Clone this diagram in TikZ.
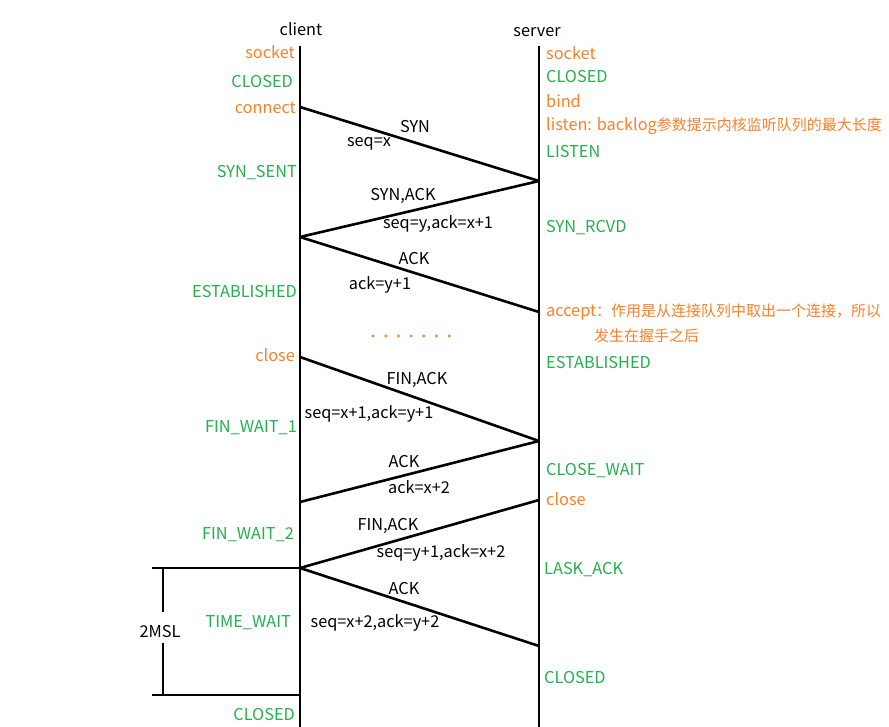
\documentclass[tikz,border=0pt]{standalone}
\usepackage{fontspec}
\setmainfont{Noto Sans CJK SC}
\newcommand{\cjksz}[1]{{\fontsize{15}{18}\selectfont #1}}
\definecolor{orng}{HTML}{FF7F27}
\definecolor{grn}{HTML}{22B14C}
\begin{document}
\begin{tikzpicture}[x=1pt,y=-1pt,
  every node/.style={font=\fontsize{16.3}{19}\selectfont,inner sep=0pt},
  life/.style={line width=2.6pt},
  msg/.style={line width=2.6pt},
  lstate/.style={text=grn,anchor=east},
  lcall/.style={text=orng,anchor=east},
  rstate/.style={text=grn,anchor=west},
  rcall/.style={text=orng,anchor=west},
  lbl/.style={text=black}]
\useasboundingbox (0,0) rectangle (889,727);
% lifelines
\node[lbl] (client) at (301,29) {client};
\node[lbl] (server) at (537,32) {server};
\coordinate (ctop) at (300,46);
\coordinate (cbot) at (300,727);
\coordinate (stop) at (539,46);
\coordinate (sbot) at (539,727);
\draw[life] (ctop) -- (cbot);
\draw[life] (stop) -- (sbot);
% client labels
\node[lcall]  (cl1) at (295,52) {socket};
\node[lstate] (cl2) at (293,82) {CLOSED};
\node[lcall]  (cl3) at (296,108) {connect};
\node[lstate] (cl4) at (297,173) {SYN\_SENT};
\node[lstate] (cl5) at (297,292) {ESTABLISHED};
\node[lcall]  (cl6) at (295,355) {close};
\node[lstate] (cl7) at (297,428) {FIN\_WAIT\_1};
\node[lstate] (cl8) at (294,535) {FIN\_WAIT\_2};
\node[lstate] (cl9) at (291,623) {TIME\_WAIT};
\node[lstate] (cl10) at (295,715) {CLOSED};
% server labels
\node[rcall]  (sl1) at (546,53) {socket};
\node[rstate] (sl2) at (546,77) {CLOSED};
\node[rcall]  (sl3) at (546,101) {bind};
\node[rcall]  (sl4) at (546,126) {listen: backlog\cjksz{参数提示内核监听队列的最大长度}};
\node[rstate] (sl5) at (546,152) {LISTEN};
\node[rstate] (sl6) at (546,228) {SYN\_RCVD};
\node[rcall]  (sl7) at (546,312) {accept\cjksz{：作用是从连接队列中取出一个连接，所以}};
\node[rcall]  (sl7b) at (594,336) {\cjksz{发生在握手之后}};
\node[rstate] (sl8) at (546,363) {ESTABLISHED};
\node[rstate] (sl9) at (546,471) {CLOSE\_WAIT};
\node[rcall]  (sl10) at (546,499) {close};
\node[rstate] (sl11) at (544,570) {LASK\_ACK};
\node[rstate] (sl12) at (544,678) {CLOSED};
% message end points
\coordinate (c1) at (300,107);
\coordinate (s1) at (539,181);
\coordinate (c2) at (300,237);
\coordinate (s2) at (539,312);
\coordinate (c3) at (300,357);
\coordinate (s3) at (539,441);
\coordinate (c4) at (300,502);
\coordinate (s4) at (539,500);
\coordinate (c5) at (300,568);
\coordinate (s5) at (539,646);
\draw[msg] (c1) -- (s1);
\draw[msg] (s1) -- (c2);
\draw[msg] (c2) -- (s2);
\draw[msg] (c3) -- (s3);
\draw[msg] (s3) -- (c4);
\draw[msg] (s4) -- (c5);
\draw[msg] (c5) -- (s5);
% message labels
\node[lbl] (m1a) at (415,127) {SYN};
\node[lbl] (m1b) at (369,144) {seq=x};
\node[lbl] (m2a) at (403,196) {SYN,ACK};
\node[lbl] (m2b) at (438,224) {seq=y,ack=x+1};
\node[lbl] (m3a) at (414,259) {ACK};
\node[lbl] (m3b) at (380,285) {ack=y+1};
\foreach \i in {0,...,6} \fill[orng] (373+12.7*\i,336) circle (1.6);
\node[lbl] (m4a) at (417,380) {FIN,ACK};
\node[lbl] (m4b) at (369,414) {seq=x+1,ack=y+1};
\node[lbl] (m5a) at (404,462) {ACK};
\node[lbl] (m5b) at (419,487) {ack=x+2};
\node[lbl] (m6a) at (388,526) {FIN,ACK};
\node[lbl] (m6b) at (441,553) {seq=y+1,ack=x+2};
\node[lbl] (m7a) at (404,589) {ACK};
\node[lbl] (m7b) at (375,623) {seq=x+2,ack=y+2};
% 2MSL bracket
\node[lbl] (msl) at (160,632) {2MSL};
\coordinate (bt) at (152,568);
\coordinate (bb) at (152,695);
\coordinate (bct) at (300,695);
\draw[msg] (bt) -- (c5);
\draw[msg] (bb) -- (bct);
\draw[msg] (163,568) -- (163,612);
\draw[msg] (163,643) -- (163,695);
\end{tikzpicture}
\end{document}
